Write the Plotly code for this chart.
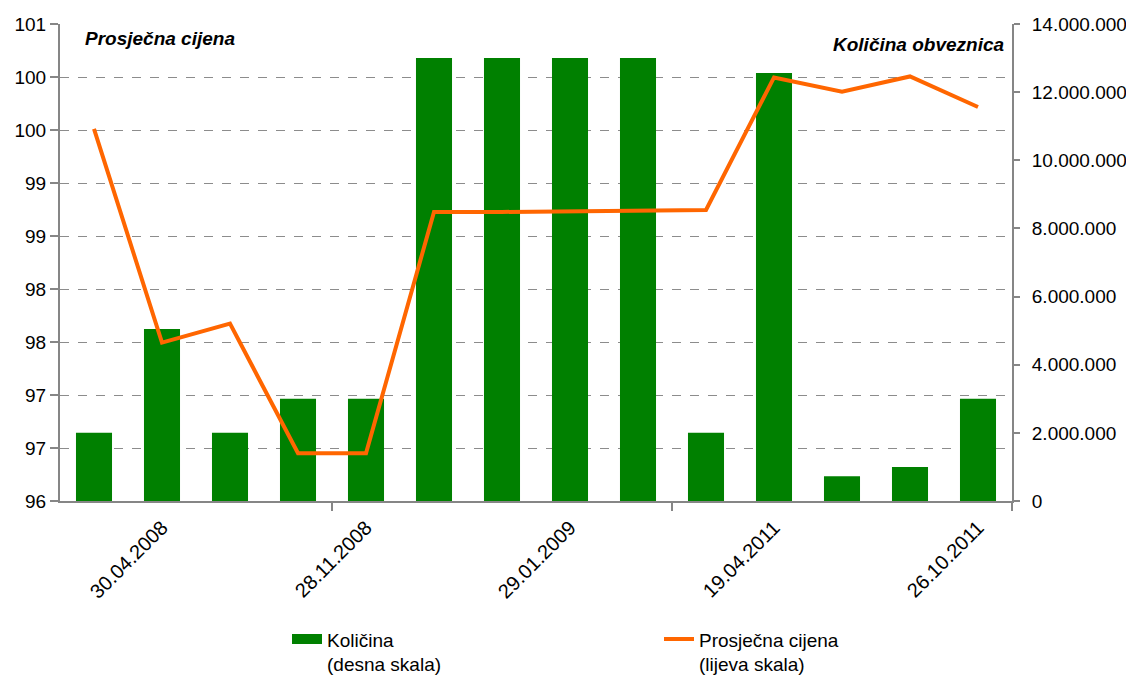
import plotly.graph_objects as go
import numpy as np

# ---- data ----
positions = list(range(14))
tick_positions = [1, 4, 7, 10, 13]
tick_labels = ["30.04.2008", "28.11.2008", "29.01.2009", "19.04.2011", "26.10.2011"]
kolicina = [2000000, 5050000, 2000000, 3000000, 3000000, 13000000, 13000000, 13000000,
            13000000, 2000000, 12560000, 730000, 1000000, 3000000]
cijena = [99.90, 97.66, 97.86, 96.50, 96.50, 99.03, 99.03, 99.04, 99.05, 99.05,
          100.44, 100.29, 100.45, 100.13]
left_tick_labels = ["96", "97", "97", "98", "98", "99", "99", "100", "100", "101"]
right_ticks = [0, 2000000, 4000000, 6000000, 8000000, 10000000, 12000000, 14000000]

FONT = "Liberation Sans, Arial, sans-serif"
GREEN = "#008000"
ORANGE = "#FF6600"
AXIS = "#868686"

fig = go.Figure()
# bars on the primary (right-side) axis so the line overlays them
fig.add_trace(go.Bar(
    x=positions, y=kolicina, yaxis="y", name="Količina<br>(desna skala)",
    marker=dict(color=GREEN, line=dict(width=0)), showlegend=False,
))
# legend-only entry giving a wide rectangular key like the original
fig.add_trace(go.Scatter(
    x=[None], y=[None], mode="lines", name="Količina<br>(desna skala)",
    line=dict(color=GREEN, width=10), yaxis="y", hoverinfo="skip",
))
fig.add_trace(go.Scatter(
    x=positions, y=cijena, yaxis="y2", mode="lines", name="Prosječna cijena<br>(lijeva skala)",
    line=dict(color=ORANGE, width=4),
))

left_vals = list(np.linspace(96, 101, len(left_tick_labels)))

# page body has an 8px margin, so the figure is 8px smaller and margins shifted
fig.update_layout(
    width=1126, height=667,
    margin=dict(l=52, r=122, t=16, b=174, autoexpand=False),
    paper_bgcolor="white", plot_bgcolor="white",
    font=dict(family=FONT, size=19, color="black"),
    separators=",.",
    bargap=0.47,
    showlegend=True,
    legend=dict(orientation="h", x=(287 - 60) / 952, xanchor="left", y=-0.25, yanchor="top",
                valign="top", entrywidth=327, entrywidthmode="pixels",
                font=dict(size=19), traceorder="normal", tracegroupgap=0),
    xaxis=dict(range=[-0.5, 13.5], tickvals=tick_positions, ticktext=tick_labels,
               tickangle=-45, ticks="", showgrid=False, zeroline=False, automargin=False,
               showline=True, linecolor=AXIS, linewidth=2, ticklabelstandoff=5,
               minor=dict(tickvals=[3.5, 8.5, 13.5], ticks="outside", ticklen=8,
                          tickcolor=AXIS, tickwidth=2, showgrid=False),
               tickfont=dict(size=20)),
    yaxis=dict(range=[0, 14000000], side="right", tickvals=right_ticks,
               tickformat=",d", showgrid=False, zeroline=False, showline=True,
               automargin=False, ticklabelstandoff=8,
               linecolor=AXIS, linewidth=2, ticks="outside", ticklen=6,
               tickcolor=AXIS, tickwidth=2),
    yaxis2=dict(range=[96, 101], overlaying="y", side="left", tickvals=left_vals,
                ticktext=left_tick_labels, automargin=False,
                showgrid=True, gridcolor="#8c8c8c", griddash="dash", gridwidth=1,
                zeroline=False, showline=True, linecolor=AXIS, linewidth=2,
                ticks="outside", ticklen=8, tickcolor=AXIS, tickwidth=2),
    annotations=[
        dict(text="<b><i>Prosječna cijena</i></b>", xref="paper", yref="paper",
             x=0.024, y=0.995, xanchor="left", yanchor="top", showarrow=False,
             font=dict(size=19)),
        dict(text="<b><i>Količina obveznica</i></b>", xref="paper", yref="paper",
             x=0.994, y=0.984, xanchor="right", yanchor="top", showarrow=False,
             font=dict(size=19)),
    ],
)

fig.write_html("out.html")
